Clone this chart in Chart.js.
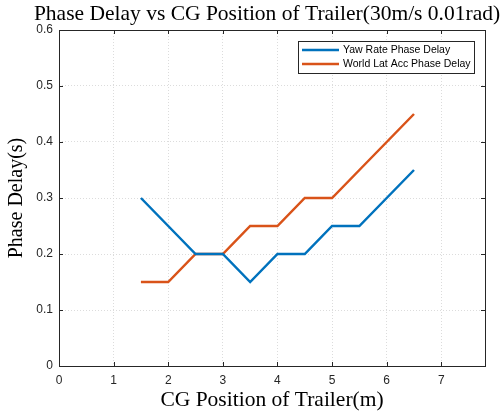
<!DOCTYPE html>
<html>
<head>
<meta charset="utf-8">
<script src="https://cdn.jsdelivr.net/npm/chart.js@4"></script>
<style>
  html, body { margin: 0; padding: 0; background: #fff; }
  #wrap { width: 504px; height: 416px; }
</style>
</head>
<body>
<div id="wrap"><canvas id="myChart" width="504" height="416"></canvas></div>
<script>
// data
var cgPosition = [1.5, 2, 2.5, 3, 3.5, 4, 4.5, 5, 5.5, 6, 6.5];
var yawRateDelay = [0.3, 0.25, 0.2, 0.2, 0.15, 0.2, 0.2, 0.25, 0.25, 0.3, 0.35];
var latAccDelay = [0.15, 0.15, 0.2, 0.2, 0.25, 0.25, 0.3, 0.3, 0.35, 0.4, 0.45];
var seriesNames = ['Yaw Rate Phase Delay', 'World Lat Acc Phase Delay'];
var xTicks = [0, 1, 2, 3, 4, 5, 6, 7];
var yTicks = [0, 0.1, 0.2, 0.3, 0.4, 0.5, 0.6];
var chartTitle = 'Phase Delay vs CG Position of Trailer(30m/s 0.01rad)';

function toPoints(xs, ys) {
    return xs.map(function (x, i) { return { x: x, y: ys[i] }; });
}

var tickFont = { family: 'Liberation Sans, Arial, sans-serif', size: 12 };
var serif = 'Liberation Serif, Times New Roman, serif';

// box around the axes + inward tick marks + legend box + title, MATLAB style
var matlabBox = {
    id: 'matlabBox',
    afterDatasetsDraw: function (chart) {
        var ctx = chart.ctx, a = chart.chartArea;
        var xs = chart.scales.x, ys = chart.scales.y;
        ctx.save();
        ctx.strokeStyle = '#262626';
        ctx.lineWidth = 1;
        ctx.strokeRect(Math.round(a.left) + 0.5, Math.round(a.top) + 0.5,
            Math.round(a.right - a.left), Math.round(a.bottom - a.top));
        ctx.beginPath();
        xTicks.forEach(function (v) {
            var px = Math.round(xs.getPixelForValue(v)) + 0.5;
            ctx.moveTo(px, a.bottom); ctx.lineTo(px, a.bottom - 4);
            ctx.moveTo(px, a.top); ctx.lineTo(px, a.top + 4);
        });
        yTicks.forEach(function (v) {
            var py = Math.round(ys.getPixelForValue(v)) + 0.5;
            ctx.moveTo(a.left, py); ctx.lineTo(a.left + 4, py);
            ctx.moveTo(a.right, py); ctx.lineTo(a.right - 4, py);
        });
        ctx.stroke();

        // title, centred over the axes like matlab does
        ctx.fillStyle = '#000';
        ctx.font = '21.5px ' + serif;
        ctx.textAlign = 'center';
        ctx.textBaseline = 'middle';
        ctx.fillText(chartTitle, (a.left + a.right) / 2 - 5, 14);

        // legend
        var lx = 298, ly = 41, lw = 176, lh = 32;
        ctx.fillStyle = '#fff';
        ctx.fillRect(lx, ly, lw, lh);
        ctx.strokeStyle = '#262626';
        ctx.strokeRect(lx + 0.5, ly + 0.5, lw, lh);
        ctx.font = '10.5px Liberation Sans, Arial, sans-serif';
        ctx.textAlign = 'left';
        chart.data.datasets.forEach(function (ds, i) {
            var yy = ly + 9 + i * 14;
            ctx.strokeStyle = ds.borderColor;
            ctx.lineWidth = 2.5;
            ctx.beginPath();
            ctx.moveTo(lx + 4, yy); ctx.lineTo(lx + 41, yy);
            ctx.stroke();
            ctx.fillStyle = '#000';
            ctx.fillText(ds.label, lx + 45, yy);
        });
        ctx.restore();
    }
};

var ctx = document.getElementById('myChart').getContext('2d');
var chart = new Chart(ctx, {
    type: 'line',
    data: {
        datasets: [{
            label: seriesNames[0],
            data: toPoints(cgPosition, yawRateDelay),
            borderColor: '#0072BD',
            backgroundColor: '#0072BD',
            borderWidth: 2.5,
            pointRadius: 0,
            tension: 0,
            fill: false
        }, {
            label: seriesNames[1],
            data: toPoints(cgPosition, latAccDelay),
            borderColor: '#D95319',
            backgroundColor: '#D95319',
            borderWidth: 2.5,
            pointRadius: 0,
            tension: 0,
            fill: false
        }]
    },
    options: {
        responsive: false,
        animation: false,
        layout: { padding: { left: 0, right: 19, top: 30, bottom: 0 } },
        plugins: {
            legend: { display: false },
            tooltip: { enabled: false },
            title: { display: false }
        },
        scales: {
            x: {
                type: 'linear',
                min: 0,
                max: 7.8,
                afterBuildTicks: function (s) {
                    s.ticks = xTicks.map(function (v) { return { value: v }; });
                },
                afterFit: function (s) { s.height = 50; },
                grid: {
                    color: '#dcdcdc',
                    tickLength: 0,
                    drawTicks: false
                },
                border: { display: false, dash: [1, 2] },
                ticks: { color: '#262626', font: tickFont, padding: 7, maxRotation: 0 },
                title: {
                    display: true,
                    text: 'CG Position of Trailer(m)',
                    color: '#000',
                    font: { family: serif, size: 21.5 },
                    padding: { top: 0, bottom: 3 }
                }
            },
            y: {
                min: 0,
                max: 0.6,
                afterBuildTicks: function (s) {
                    s.ticks = yTicks.map(function (v) { return { value: v }; });
                },
                afterFit: function (s) { s.width = 59; },
                grid: {
                    color: '#dcdcdc',
                    tickLength: 0,
                    drawTicks: false
                },
                border: { display: false, dash: [1, 2] },
                ticks: {
                    color: '#262626', font: tickFont, padding: 6,
                    callback: function (v) { return String(+v.toFixed(1)); }
                },
                title: {
                    display: true,
                    text: 'Phase Delay(s)',
                    color: '#000',
                    font: { family: serif, size: 20 },
                    padding: { top: 5, bottom: 6 }
                }
            }
        }
    },
    plugins: [matlabBox]
});
</script>
</body>
</html>
